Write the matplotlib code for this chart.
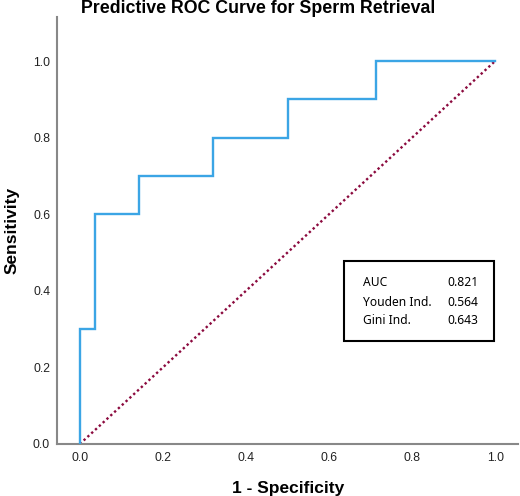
import matplotlib
matplotlib.use("Agg")
import matplotlib.pyplot as plt
from matplotlib.patches import Rectangle

# ROC curve points (1 - specificity, sensitivity)
fpr = [0.0, 0.0, 1/28, 1/28, 4/28, 4/28, 9/28, 9/28, 14/28, 14/28, 20/28, 20/28, 1.0]
tpr = [0.0, 0.3, 0.3, 0.6, 0.6, 0.7, 0.7, 0.8, 0.8, 0.9, 0.9, 1.0, 1.0]
ref_x = [0.0, 1.0]
ref_y = [0.0, 1.0]
tick_vals = [0.0, 0.2, 0.4, 0.6, 0.8, 1.0]
tick_labels = ["0.0", "0.2", "0.4", "0.6", "0.8", "1.0"]
stat_names = ["AUC", "Youden Ind.", "Gini Ind."]
stat_values = ["0.821", "0.564", "0.643"]

W, H = 520, 496
fig = plt.figure(figsize=(W/100, H/100), dpi=100)
ax = fig.add_axes([57/W, 1 - 444/H, (518-57)/W, (444-17)/H])

ax.plot(fpr, tpr, color="#3BA5E5", lw=1.7, solid_joinstyle="miter", zorder=3)
ax.plot(ref_x, ref_y, color="#8B0A3E", lw=1.7, ls=(0, (1, 1.2)), zorder=2)

ax.set_xlim(-0.055, 1.055)
ax.set_ylim(0.0, 1.115)
ax.set_xticks(tick_vals)
ax.set_xticklabels(tick_labels)
ax.set_yticks(tick_vals)
ax.set_yticklabels(tick_labels)
ax.tick_params(length=0, labelsize=8.8, colors="#222222")
ax.tick_params(axis="y", pad=5)
ax.tick_params(axis="x", pad=6)
for lab in ax.get_xticklabels() + ax.get_yticklabels():
    lab.set_family("Liberation Sans")

for s in ["top", "right"]:
    ax.spines[s].set_visible(False)
for s in ["left", "bottom"]:
    ax.spines[s].set_color("#888888")
    ax.spines[s].set_linewidth(1.5)

fig.text(258/W, 1 - 13/H, "Predictive ROC Curve for Sperm Retrieval",
         ha="center", va="baseline", fontsize=12.8, fontweight="bold",
         family="Liberation Sans")
fig.text(288/W, 1 - 488/H, "1 - Specificity", ha="center", va="center",
         fontsize=12.5, fontweight="bold", family="Liberation Sans")
fig.text(12/W, 1 - 230/H, "Sensitivity", ha="center", va="center",
         rotation=90, fontsize=12.5, fontweight="bold", family="Liberation Sans")

# statistics box
bx0, by0, bx1, by1 = 344, 261, 494, 341
fig.patches.append(Rectangle((bx0/W, 1 - by1/H), (bx1-bx0)/W, (by1-by0)/H,
                             transform=fig.transFigure, fill=True,
                             facecolor="white", edgecolor="black", lw=1.5,
                             zorder=5))
ys = [282, 302, 321]
for name, val, yy in zip(stat_names, stat_values, ys):
    fig.text(363/W, 1 - yy/H, name, ha="left", va="center", fontsize=8.7,
             family="Noto Sans", zorder=6)
    fig.text(478/W, 1 - yy/H, val, ha="right", va="center", fontsize=8.7,
             family="Noto Sans", zorder=6)

fig.savefig("out.png", dpi=100, facecolor="white")
